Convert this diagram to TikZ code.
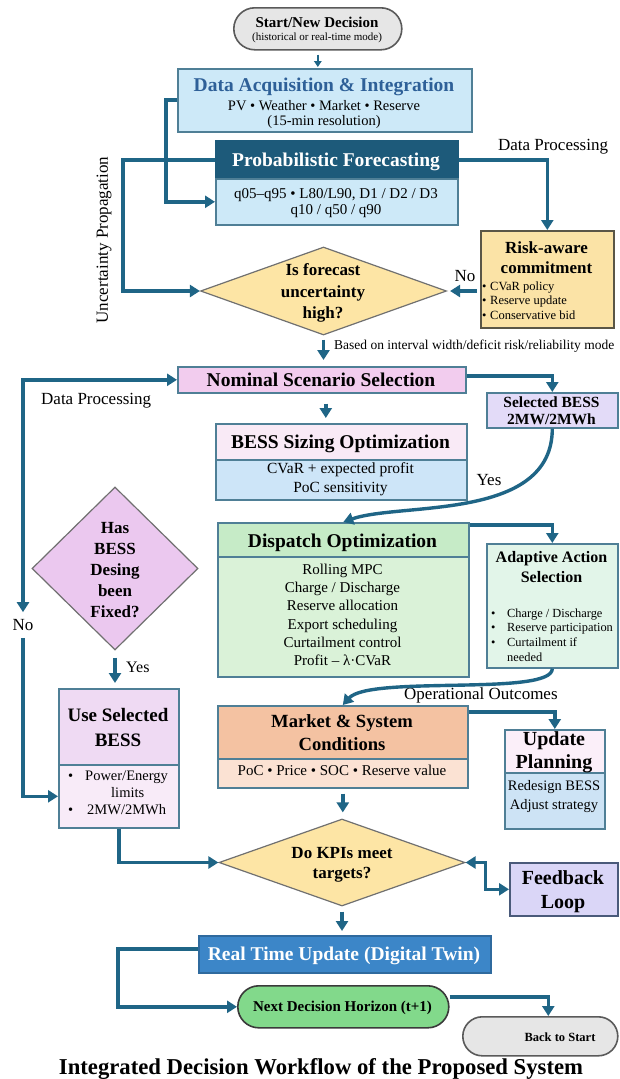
\documentclass[tikz,border=0pt]{standalone}
\usepackage{fontspec}
\setmainfont{Liberation Serif}
\usetikzlibrary{arrows.meta,shapes.geometric,calc}
\newcommand\myfs[1]{\fontsize{#1}{#1}\selectfont}
\definecolor{connc}{HTML}{1F6586}
\definecolor{bord}{HTML}{4F7F96}
\definecolor{graybd}{HTML}{5A5A5A}
\definecolor{grayf}{HTML}{E6E6E6}
\definecolor{acqf}{HTML}{CDE9F8}
\definecolor{acqt}{HTML}{2E6098}
\definecolor{probd}{HTML}{1D5A7A}
\definecolor{riskf}{HTML}{FBE3A6}
\definecolor{riskbd}{HTML}{5A5646}
\definecolor{diaf}{HTML}{FDE5A5}
\definecolor{diabd}{HTML}{707070}
\definecolor{nomf}{HTML}{F2CCEE}
\definecolor{self}{HTML}{E3DBF8}
\definecolor{bessHf}{HTML}{F9EAF6}
\definecolor{bessBf}{HTML}{CDE5F8}
\definecolor{hasf}{HTML}{EBC8EF}
\definecolor{dispHf}{HTML}{C6EBC7}
\definecolor{dispBf}{HTML}{DAF2D8}
\definecolor{adaptf}{HTML}{E2F5E9}
\definecolor{useHf}{HTML}{EFDAF3}
\definecolor{useBf}{HTML}{F8EBF8}
\definecolor{mktHf}{HTML}{F4C2A2}
\definecolor{mktBf}{HTML}{FBE2D3}
\definecolor{updHf}{HTML}{FBEFF9}
\definecolor{updBf}{HTML}{CDE3F5}
\definecolor{feedf}{HTML}{DAD6F7}
\definecolor{feedbd}{HTML}{4A5A7A}
\definecolor{rtf}{HTML}{3C86C8}
\definecolor{rtbd}{HTML}{2F6A9E}
\definecolor{nextf}{HTML}{82D98B}
\definecolor{nextbd}{HTML}{3A3A3A}
\tikzset{
  conn/.style={draw=connc, line width=3.4pt, -{Triangle[length=10pt,width=12pt]}},
  connboth/.style={draw=connc, line width=3.4pt, {Triangle[length=10pt,width=12pt]}-{Triangle[length=10pt,width=12pt]}},
  connsmall/.style={draw=connc, line width=2pt, -{Triangle[length=6pt,width=7.5pt]}},
  box/.style={draw=bord, line width=1.6pt, rectangle, inner sep=0pt, anchor=north west},
  dia/.style={diamond, draw=diabd, line width=1.2pt, inner sep=0pt},
  txt/.style={inner sep=0pt, anchor=base},
  txtl/.style={inner sep=0pt, anchor=base west},
}
\begin{document}
\begin{tikzpicture}[x=1pt,y=-1pt]
\useasboundingbox (0,0) rectangle (619,1079);
\fill[white] (0,0) rectangle (619,1079);

% ---------- boxes ----------
\node[box, fill=grayf, draw=graybd, rounded corners=21pt, minimum width=168pt, minimum height=42pt] (start) at (233,7) {};
\node[box, fill=acqf, minimum width=294pt, minimum height=63pt] (acq) at (177,68) {};
\node[box, fill=probd, draw=probd, minimum width=242pt, minimum height=38pt] (probH) at (215,140) {};
\node[box, fill=acqf, minimum width=242pt, minimum height=46pt] (probB) at (215,178) {};
\node[box, fill=riskf, draw=riskbd, minimum width=133pt, minimum height=97pt] (risk) at (480,230) {};
\node[dia, fill=diaf, minimum width=246pt, minimum height=88pt] (dia1) at (323.5,291) {};
\node[box, fill=nomf, minimum width=288pt, minimum height=26pt] (nominal) at (177,366) {};
\node[box, fill=self, minimum width=131pt, minimum height=35pt] (selB) at (486,392) {};
\node[box, fill=bessHf, minimum width=251pt, minimum height=36pt] (bessH) at (215,423) {};
\node[box, fill=bessBf, minimum width=251pt, minimum height=40pt] (bessB) at (215,459) {};
\node[dia, fill=hasf, minimum width=166pt, minimum height=163pt] (has) at (115,568.5) {};
\node[box, fill=dispHf, minimum width=251pt, minimum height=34pt] (dispH) at (217,522) {};
\node[box, fill=dispBf, minimum width=251pt, minimum height=120pt] (dispB) at (217,556) {};
\node[box, fill=adaptf, minimum width=131pt, minimum height=124pt] (adapt) at (486,543) {};
\node[box, fill=useHf, minimum width=120pt, minimum height=76pt] (useH) at (58,688) {};
\node[box, fill=useBf, minimum width=120pt, minimum height=63pt] (useB) at (58,764) {};
\node[box, fill=mktHf, minimum width=250pt, minimum height=53pt] (mktH) at (217,705) {};
\node[box, fill=mktBf, minimum width=250pt, minimum height=29pt] (mktB) at (217,758) {};
\node[box, fill=updHf, minimum width=100pt, minimum height=43pt] (updH) at (504,729) {};
\node[box, fill=updBf, minimum width=100pt, minimum height=56pt] (updB) at (504,772) {};
\node[dia, fill=diaf, minimum width=246pt, minimum height=87pt] (kpi) at (342,862.5) {};
\node[box, fill=feedf, draw=feedbd, minimum width=108pt, minimum height=53pt] (feed) at (509,862) {};
\node[box, fill=rtf, draw=rtbd, minimum width=292pt, minimum height=37pt] (rt) at (198,935) {};
\node[box, fill=nextf, draw=nextbd, rounded corners=21pt, minimum width=211pt, minimum height=42pt] (next) at (237,985) {};
\node[box, fill=grayf, draw=graybd, rounded corners=19.5pt, minimum width=155pt, minimum height=39pt] (back) at (462,1016) {};

% ---------- texts ----------
\node[txt] (startT) at (317,27.5) {\myfs{15}\bfseries Start/New Decision};
\node[txt] (startS) at (317,40.5) {\myfs{11}(historical or real-time mode)};
\node[txt, text=acqt] (acqT) at (324,91) {\myfs{19.5}\bfseries Data Acquisition \& Integration};
\node[txt] (acq1) at (324,110) {\myfs{14.5}PV • Weather • Market • Reserve};
\node[txt] (acq2) at (324,125) {\myfs{14.5}(15-min resolution)};
\node[txt, text=white] (probT) at (336,166) {\myfs{19.5}\bfseries Probabilistic Forecasting};
\node[txt] (prob1) at (336,198.5) {\myfs{15}q05–q95 • L80/L90, D1 / D2 / D3};
\node[txt] (prob2) at (336,214.5) {\myfs{15}q10 / q50 / q90};
\node[txt] (dpT) at (553,150) {\myfs{17}Data Processing};
\node[inner sep=0pt, rotate=90] (upT) at (104,240) {\myfs{17}Uncertainty Propagation};
\node[txt] (riskT1) at (546.5,253) {\myfs{17}\bfseries Risk-aware};
\node[txt] (riskT2) at (546.5,273) {\myfs{17}\bfseries commitment};
\node[txtl] (riskB1) at (482,290) {\myfs{12.5}\makebox[8pt][l]{•}CVaR policy};
\node[txtl] (riskB2) at (482,304.5) {\myfs{12.5}\makebox[8pt][l]{•}Reserve update};
\node[txtl] (riskB3) at (482,319) {\myfs{12.5}\makebox[8pt][l]{•}Conservative bid};
\node[txt] (noR) at (465,281) {\myfs{17}No};
\node[txt] (dia1a) at (323,275) {\myfs{17}\bfseries Is forecast};
\node[txt] (dia1b) at (323,297) {\myfs{17}\bfseries uncertainty};
\node[txt] (dia1c) at (323,318) {\myfs{17}\bfseries high?};
\node[txtl] (based) at (334,349) {\myfs{13.5}Based on interval width/deficit risk/reliability mode};
\node[txt] (nomT) at (321,386) {\myfs{19.5}\bfseries Nominal Scenario Selection};
\node[txtl] (dpL) at (41,404) {\myfs{17}Data Processing};
\node[txt] (selT1) at (551.5,407) {\myfs{15.5}\bfseries Selected BESS};
\node[txt] (selT2) at (551.5,424) {\myfs{15.5}\bfseries 2MW/2MWh};
\node[txt] (bessT) at (340.5,448) {\myfs{19.5}\bfseries BESS Sizing Optimization};
\node[txt] (bess1) at (340.5,473) {\myfs{15.5}CVaR + expected profit};
\node[txt] (bess2) at (340.5,492) {\myfs{15.5}PoC sensitivity};
\node[txt] (yesR) at (489,485) {\myfs{17}Yes};
\node[txt] (has1) at (115,533) {\myfs{17}\bfseries Has};
\node[txt] (has2) at (115,554) {\myfs{17}\bfseries BESS};
\node[txt] (has3) at (115,575) {\myfs{17}\bfseries Desing};
\node[txt] (has4) at (115,596) {\myfs{17}\bfseries been};
\node[txt] (has5) at (115,617) {\myfs{17}\bfseries Fixed?};
\node[inner sep=0pt] (noL) at (23,625) {\myfs{17}No};
\node[txtl] (yesL) at (126,672) {\myfs{16}Yes};
\node[txt] (dispT) at (342.5,547) {\myfs{19.5}\bfseries Dispatch Optimization};
\node[txt] (disp1) at (342.5,574.5) {\myfs{15}Rolling MPC};
\node[txt] (disp2) at (342.5,592.7) {\myfs{15}Charge / Discharge};
\node[txt] (disp3) at (342.5,610.9) {\myfs{15}Reserve allocation};
\node[txt] (disp4) at (342.5,629.1) {\myfs{15}Export scheduling};
\node[txt] (disp5) at (342.5,647.3) {\myfs{15}Curtailment control};
\node[txt] (disp6) at (342.5,665.5) {\myfs{15}Profit – λ·CVaR};
\node[txt] (adT1) at (551.5,562) {\myfs{16}\bfseries Adaptive Action};
\node[txt] (adT2) at (551.5,582) {\myfs{16}\bfseries Selection};
\node[txtl] (ad1) at (491,617) {\myfs{12.4}\makebox[16pt][l]{•}Charge / Discharge};
\node[txtl] (ad2) at (491,631) {\myfs{12.4}\makebox[16pt][l]{•}Reserve participation};
\node[txtl] (ad3) at (491,646) {\myfs{12.4}\makebox[16pt][l]{•}Curtailment if};
\node[txtl] (ad4) at (507,661) {\myfs{12.4}needed};
\node[txtl] (opT) at (404,699) {\myfs{17}Operational Outcomes};
\node[txt] (useT1) at (118,721) {\myfs{19}\bfseries Use Selected};
\node[txt] (useT2) at (118,746) {\myfs{19}\bfseries BESS};
\node[txtl] (use1) at (68,780.5) {\myfs{14.5}\makebox[17pt][l]{•}Power/Energy};
\node[txtl] (use2) at (111,797.5) {\myfs{14.5}limits};
\node[txtl] (use3) at (68,814.5) {\myfs{14.5}\makebox[19pt][l]{•}2MW/2MWh};
\node[txt] (mktT1) at (342,727) {\myfs{18.6}\bfseries Market \& System};
\node[txt] (mktT2) at (342,750) {\myfs{18.6}\bfseries Conditions};
\node[txt] (mkt1) at (342,775.5) {\myfs{15}PoC • Price • SOC • Reserve value};
\node[txt] (updT1) at (554,745) {\myfs{20}\bfseries Update};
\node[txt] (updT2) at (554,768) {\myfs{20}\bfseries Planning};
\node[txt] (upd1) at (554,790.5) {\myfs{14.5}Redesign BESS};
\node[txt] (upd2) at (554,809.5) {\myfs{14.5}Adjust strategy};
\node[txt] (kpiT1) at (342,858) {\myfs{17}\bfseries Do KPIs meet};
\node[txt] (kpiT2) at (342,878) {\myfs{17}\bfseries targets?};
\node[txt] (feedT1) at (563,884) {\myfs{20}\bfseries Feedback};
\node[txt] (feedT2) at (563,908) {\myfs{20}\bfseries Loop};
\node[txt, text=white] (rtT) at (344,960) {\myfs{19.5}\bfseries Real Time Update (Digital Twin)};
\node[txt] (nextT) at (342.5,1011.5) {\myfs{15}\bfseries Next Decision Horizon (t+1)};
\node[txt] (backT) at (560,1041) {\myfs{12.5}\bfseries Back to Start};
\node[txt] (cap) at (321,1074) {\myfs{22.7}\bfseries Integrated Decision Workflow of the Proposed System};

% ---------- connectors ----------
\coordinate (nomS) at ($(nominal.south)+(4,0)$);
\draw[connsmall, shorten <=4pt, shorten >=1pt] (start.south) -- (start.south |- acq.north);
\draw[conn] ($(acq.north west)+(0,32)$) -- ++(-11,0) |- (probB.west);
\draw[conn] (probH.west) -- ++(-92,0) |- (dia1.west);
\draw[conn] (probH.east) -| (risk.north);
\draw[conn, shorten <=3pt, shorten >=3pt] (risk.west |- dia1.east) -- (dia1.east);
\draw[conn, shorten <=4pt, shorten >=6pt] (dia1.south) -- (dia1.south |- nominal.north);
\draw[conn] ($(nominal.east)+(0,-4)$) -| (selB.north);
\draw[conn, shorten <=10pt, shorten >=5pt] (nomS) -- (nomS |- bessH.north);
\draw[connboth, shorten <=7pt] (noL.north) -- (noL.north |- nominal.west) -- (nominal.west);
\draw[conn, shorten <=7pt] (noL.south) |- (useB.west);
\draw[conn] (selB.south) .. controls +(0,93) and +(57,-20) .. (dispH.north);
\draw[conn] ($(dispH.north east)+(0,3)$) -| (adapt.north);
\draw[conn, shorten <=7pt, shorten >=5pt] (has.south) -- (has.south |- useH.north);
\draw[conn] (adapt.south) .. controls +(0,28) and +(27,-30) .. (mktH.north);
\draw[conn] ($(mktH.north east)+(0,7)$) -| (updH.north);
\draw[conn, shorten <=5pt, shorten >=6pt] (mktB.south) -- (mktB.south |- kpi.north);
\draw[conn] (useB.south) |- (kpi.west);
\draw[connboth] (kpi.east) -- ++(20,0) |- (feed.west);
\draw[conn, shorten <=5pt, shorten >=4pt] (kpi.south) -- (kpi.south |- rt.north);
\draw[conn] ($(rt.north west)+(0,14)$) -- ++(-80,0) |- (next.west);
\draw[conn] ($(next.east)+(0,-10)$) -| ($(back.north)+(8,0)$);
\end{tikzpicture}
\end{document}
